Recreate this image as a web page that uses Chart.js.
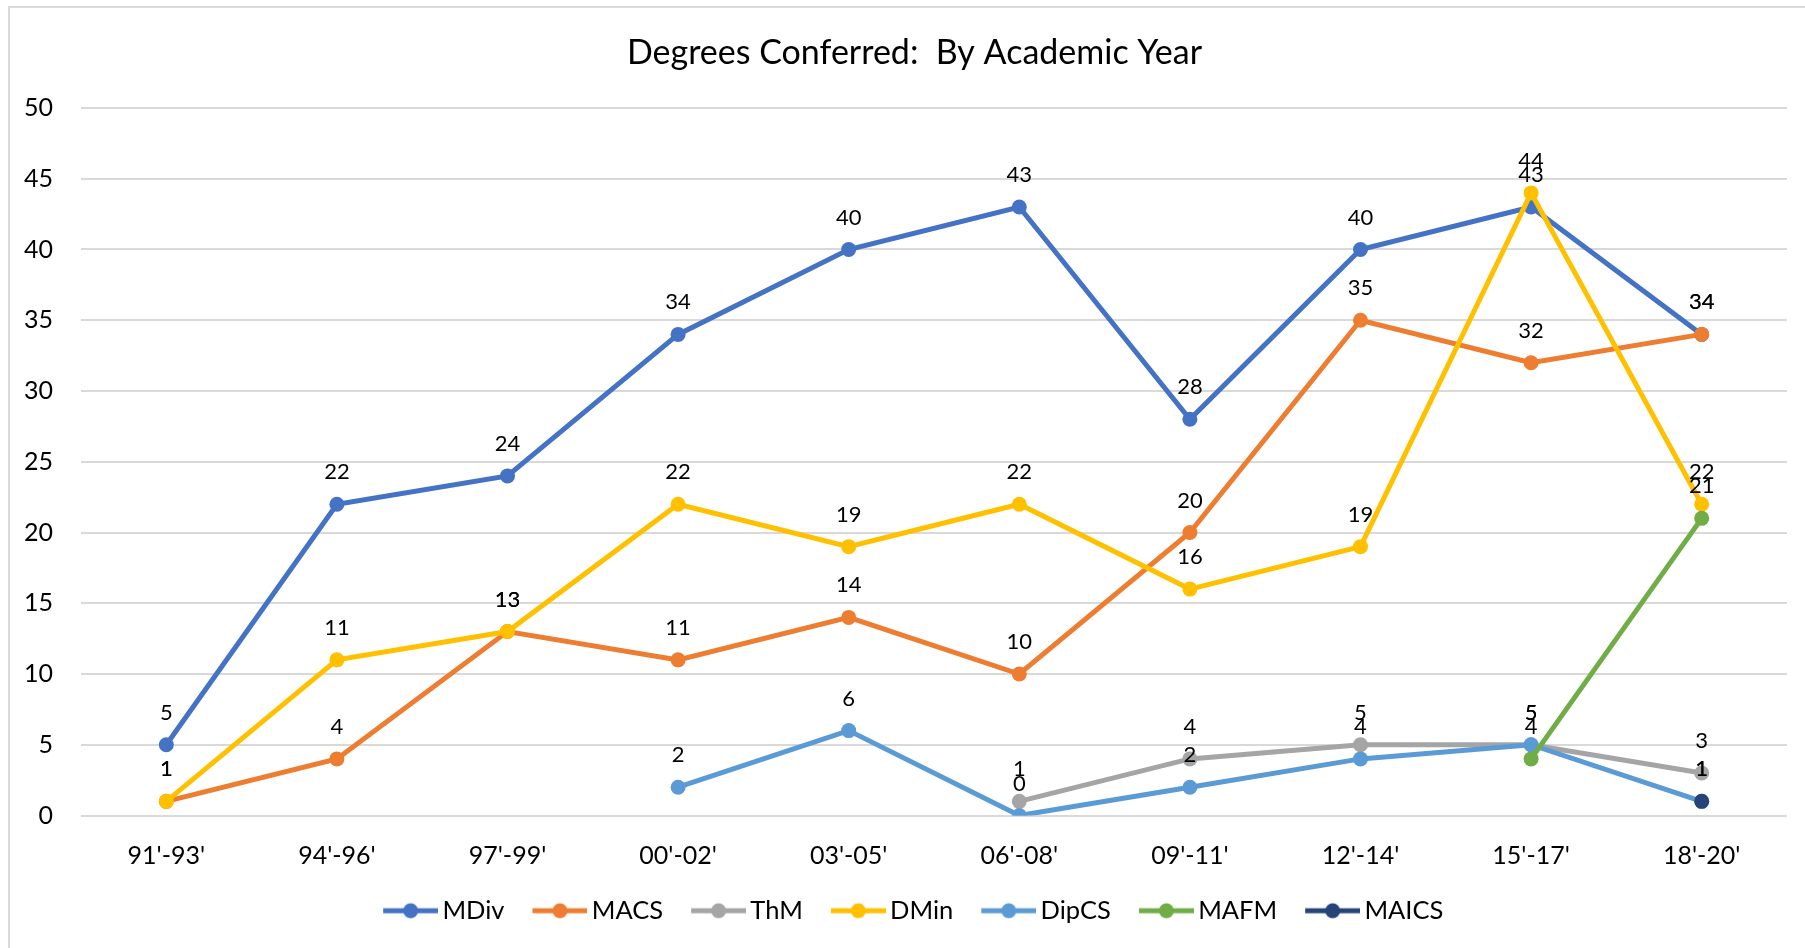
<!DOCTYPE html>
<html>
<head>
<meta charset="utf-8">
<script src="https://cdn.jsdelivr.net/npm/chart.js@4.4.1/dist/chart.umd.min.js"></script>
<style>
html,body{margin:0;padding:0;background:#fff;}
#wrap{width:1805px;height:948px;position:relative;}
</style>
</head>
<body>
<div id="wrap"><canvas id="c"></canvas></div>
<script>
const categories = ["91'-93'", "94'-96'", "97'-99'", "00'-02'", "03'-05'", "06'-08'", "09'-11'", "12'-14'", "15'-17'", "18'-20'"];
const mdiv  = [5, 22, 24, 34, 40, 43, 28, 40, 43, 34];
const macs  = [1, 4, 13, 11, 14, 10, 20, 35, 32, 34];
const thm   = [null, null, null, null, null, 1, 4, 5, 5, 3];
const dmin  = [1, 11, 13, 22, 19, 22, 16, 19, 44, 22];
const dipcs = [null, null, null, 2, 6, 0, 2, 4, 5, 1];
const mafm  = [null, null, null, null, null, null, null, null, 4, 21];
const maics = [null, null, null, null, null, null, null, null, null, 1];
const seriesNames = ['MDiv', 'MACS', 'ThM', 'DMin', 'DipCS', 'MAFM', 'MAICS'];
const seriesColors = ['#4472C4', '#ED7D31', '#A5A5A5', '#FFC000', '#5B9BD5', '#70AD47', '#264478'];
const yTicks = [0, 5, 10, 15, 20, 25, 30, 35, 40, 45, 50];
const titleText = 'Degrees Conferred:  By Academic Year';

const seriesData = [mdiv, macs, thm, dmin, dipcs, mafm, maics];
const FONT = 'Lato, "Open Sans", sans-serif';

function legendIcon(color) {
  const c = document.createElement('canvas');
  c.width = 61; c.height = 18;
  const g = c.getContext('2d');
  g.strokeStyle = color; g.lineWidth = 5;
  g.beginPath(); g.moveTo(6, 9); g.lineTo(61, 9); g.stroke();
  g.fillStyle = color;
  g.beginPath(); g.arc(33.5, 9, 7.5, 0, Math.PI * 2); g.fill();
  return c;
}
const icons = seriesColors.map(legendIcon);

const datasets = seriesNames.map((name, i) => ({
  label: name,
  data: seriesData[i],
  borderColor: seriesColors[i],
  backgroundColor: seriesColors[i],
  pointBackgroundColor: seriesColors[i],
  pointBorderColor: seriesColors[i],
  borderWidth: 5,
  pointRadius: 7.5,
  pointBorderWidth: 0,
  pointHoverRadius: 7.5,
  tension: 0,
  spanGaps: false,
  order: -i
}));

const framePlugin = {
  id: 'frame',
  beforeDraw(chart) {
    const ctx = chart.ctx;
    ctx.save();
    ctx.fillStyle = '#fff';
    ctx.fillRect(0, 0, chart.width, chart.height);
    ctx.strokeStyle = '#d9d9d9';
    ctx.lineWidth = 2;
    ctx.beginPath();
    ctx.moveTo(9, chart.height);
    ctx.lineTo(9, 7);
    ctx.lineTo(chart.width, 7);
    ctx.stroke();
    ctx.restore();
  }
};

const labelPlugin = {
  id: 'pointLabels',
  afterDatasetsDraw(chart) {
    const ctx = chart.ctx;
    ctx.save();
    ctx.font = '22px ' + FONT;
    ctx.fillStyle = '#000';
    ctx.textAlign = 'center';
    ctx.textBaseline = 'alphabetic';
    chart.data.datasets.forEach((ds, i) => {
      const meta = chart.getDatasetMeta(i);
      meta.data.forEach((pt, j) => {
        const v = ds.data[j];
        if (v === null || v === undefined) return;
        ctx.fillText(String(v), pt.x, pt.y - 25);
      });
    });
    ctx.restore();
  }
};

new Chart(document.getElementById('c'), {
  type: 'line',
  data: { labels: categories, datasets: datasets },
  plugins: [framePlugin, labelPlugin],
  options: {
    responsive: true,
    maintainAspectRatio: false,
    devicePixelRatio: 1,
    animation: false,
    layout: { padding: { left: 24, right: 0, top: 1, bottom: 14.5 } },
    plugins: {
      tooltip: { enabled: false },
      title: {
        display: true,
        text: titleText,
        color: '#000',
        font: { family: FONT, size: 34, weight: 'normal' },
        padding: { top: 31.6, bottom: 34.6 }
      },
      legend: {
        display: true,
        position: 'bottom',
        labels: {
          color: '#000',
          font: { family: FONT, size: 25.5 },
          usePointStyle: true,
          pointStyleWidth: 44,
          padding: 30.5,
          sort: (a, b) => a.datasetIndex - b.datasetIndex,
          generateLabels: (chart) => {
            const items = Chart.defaults.plugins.legend.labels.generateLabels(chart);
            items.forEach(it => { it.pointStyle = icons[it.datasetIndex]; });
            return items;
          }
        }
      }
    },
    scales: {
      x: {
        type: 'category',
        offset: true,
        grid: { display: false, drawTicks: false },
        border: { display: false },
        ticks: { color: '#000', font: { family: FONT, size: 25 }, padding: 25, maxRotation: 0, autoSkip: false },
        afterFit: (s) => { s.height = 52; }
      },
      y: {
        type: 'linear',
        position: 'left',
        min: 0,
        max: 50,
        grid: { color: '#d9d9d9', lineWidth: 2, drawTicks: false },
        border: { display: false },
        ticks: { color: '#000', font: { family: FONT, size: 25 }, padding: 28, stepSize: 5 },
        afterBuildTicks: (s) => { s.ticks = yTicks.map(v => ({ value: v })); },
        afterFit: (s) => { s.width = 57; }
      },
      y2: {
        type: 'linear',
        position: 'right',
        display: true,
        grid: { display: false, drawTicks: false },
        border: { display: false },
        ticks: { display: false },
        afterFit: (s) => { s.width = 18; }
      }
    }
  }
});
</script>
</body>
</html>
